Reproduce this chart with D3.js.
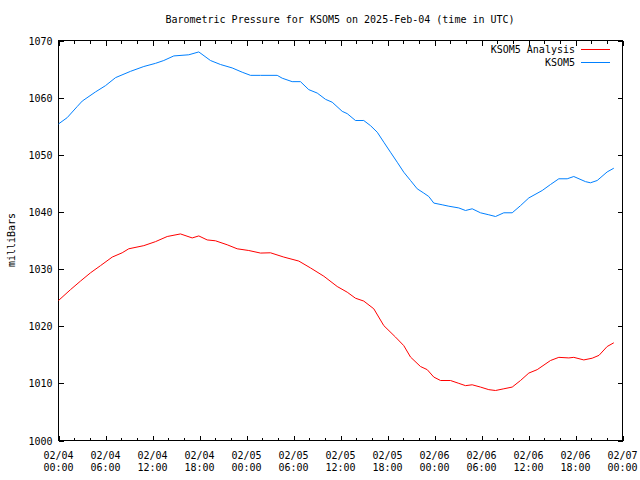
<!DOCTYPE html>
<html>
<head>
<meta charset="utf-8">
<script src="https://cdn.jsdelivr.net/npm/d3@7"></script>
<style>
  html, body { margin: 0; padding: 0; background: #fff; }
  svg { display: block; }
  text { font-family: "DejaVu Sans Mono", "Liberation Mono", monospace; font-size: 10px; fill: #000; }
</style>
</head>
<body>
<svg id="chart" width="640" height="480"></svg>
<script>
// ---- Data (hours since 2025-02-04 00:00 UTC, pressure in mb) ----
const stationHours = [0, 1.11, 2.39, 3.03, 4.72, 6.0, 7.28, 9.19, 10.89, 12.38, 13.44, 14.72, 16.63, 17.91,
  19.4, 20.68, 22.17, 23.45, 24.51, 25.79, 27.92, 28.56, 29.83, 30.89, 31.95, 33.03, 34.09, 34.94,
  36.22, 36.86, 37.91, 38.97, 39.83, 40.69, 41.53, 42.38, 43.24, 44.08, 44.94, 45.79, 46.63, 47.27,
  47.91, 48.98, 49.83, 51.1, 51.96, 52.81, 53.87, 54.93, 55.79, 56.85, 57.92, 58.98, 60.04, 61.75,
  62.81, 63.87, 64.94, 65.78, 67.28, 67.91, 68.77, 70.04, 70.89];
const stationValues = [1055.4, 1056.5, 1058.45, 1059.4, 1061.0, 1062.1, 1063.5, 1064.6, 1065.45, 1066.0, 1066.5, 1067.3, 1067.5, 1068.0,
  1066.5, 1065.8, 1065.2, 1064.45, 1063.9, 1063.9, 1063.9, 1063.4, 1062.8, 1062.8, 1061.4, 1060.8, 1059.7, 1059.2,
  1057.6, 1057.2, 1056.0, 1056.0, 1055.1, 1053.95, 1052.2, 1050.45, 1048.7, 1046.95, 1045.5, 1044.05, 1043.3, 1042.7,
  1041.55, 1041.25, 1041.0, 1040.7, 1040.25, 1040.55, 1039.85, 1039.5, 1039.2, 1039.85, 1039.85, 1041.1, 1042.45, 1043.75,
  1044.8, 1045.8, 1045.8, 1046.2, 1045.3, 1045.1, 1045.5, 1047.0, 1047.65];

const analysisHours = [0, 1.53, 2.81, 4.09, 5.36, 6.86, 8.13, 8.97, 10.89, 12.38, 13.88, 15.57, 17.07, 17.91,
  18.98, 20.04, 21.54, 22.81, 24.29, 25.79, 27.06, 28.76, 30.68, 32.17, 33.87, 35.58, 36.86, 37.91,
  38.97, 40.25, 41.53, 43.02, 44.08, 44.94, 46.21, 47.07, 47.91, 48.77, 50.04, 51.1, 51.96, 52.81,
  53.87, 54.93, 55.79, 56.85, 57.92, 58.98, 60.04, 61.11, 62.81, 63.87, 65.15, 65.78, 67.06, 68.13,
  69.0, 70.04, 70.89];
const analysisValues = [1024.5, 1026.4, 1027.9, 1029.35, 1030.6, 1032.1, 1032.85, 1033.55, 1034.1, 1034.8, 1035.7, 1036.15, 1035.45, 1035.8,
  1035.1, 1034.95, 1034.25, 1033.55, 1033.25, 1032.8, 1032.85, 1032.1, 1031.4, 1030.2, 1028.75, 1026.95, 1025.95, 1024.9,
  1024.4, 1023.05, 1020.1, 1018.1, 1016.6, 1014.6, 1012.95, 1012.4, 1011.1, 1010.5, 1010.5, 1010.0, 1009.6, 1009.75,
  1009.35, 1008.9, 1008.75, 1009.05, 1009.35, 1010.5, 1011.8, 1012.4, 1014.0, 1014.55, 1014.45, 1014.55, 1014.1, 1014.4,
  1014.9, 1016.45, 1017.1];

const xTickHours = [0, 6, 12, 18, 24, 30, 36, 42, 48, 54, 60, 66, 72];
const xTickDates = ["02/04", "02/04", "02/04", "02/04", "02/05", "02/05", "02/05", "02/05", "02/06", "02/06", "02/06", "02/06", "02/07"];
const xTickTimes = ["00:00", "06:00", "12:00", "18:00", "00:00", "06:00", "12:00", "18:00", "00:00", "06:00", "12:00", "18:00", "00:00"];
const yTicks = [1000, 1010, 1020, 1030, 1040, 1050, 1060, 1070];
const seriesNames = ["KSOM5 Analysis", "KSOM5"];
const seriesColors = ["#ff0000", "#0080ff"];
const titleText = "Barometric Pressure for KSOM5 on 2025-Feb-04 (time in UTC)";
const yLabelText = "milliBars";

// ---- Layout ----
const L = 58, R = 622, T = 40, B = 440;
const svg = d3.select("#chart");
const g = svg.append("g").attr("transform", "translate(0.5,0.5)");

const x = d3.scaleLinear().domain([0, 72]).range([L, R]);
const y = d3.scaleLinear().domain([1000, 1070]).range([B, T]);

const minorHours = d3.range(0, 73, 2).filter(h => h % 6 !== 0);

function styleAxis(sel) {
  sel.select(".domain").remove();
  sel.selectAll("line").attr("stroke", "#000").attr("shape-rendering", "crispEdges");
}

// bottom & top major/minor ticks (inward)
g.append("g").attr("transform", `translate(0,${B})`)
  .call(d3.axisBottom(x).tickValues(xTickHours).tickSize(-5).tickFormat("")).call(styleAxis);
g.append("g").attr("transform", `translate(0,${B})`)
  .call(d3.axisBottom(x).tickValues(minorHours).tickSize(-3).tickFormat("")).call(styleAxis);
g.append("g").attr("transform", `translate(0,${T})`)
  .call(d3.axisTop(x).tickValues(xTickHours).tickSize(-5).tickFormat("")).call(styleAxis);
g.append("g").attr("transform", `translate(0,${T})`)
  .call(d3.axisTop(x).tickValues(minorHours).tickSize(-3).tickFormat("")).call(styleAxis);

// left & right ticks
const yl = g.append("g").attr("transform", `translate(${L},0)`)
  .call(d3.axisLeft(y).tickValues(yTicks).tickSize(-5).tickPadding(6).tickFormat(d3.format("d")));
styleAxis(yl);
yl.selectAll("text").attr("font-family", null).attr("font-size", null).attr("dy", "0.35em");
g.append("g").attr("transform", `translate(${R},0)`)
  .call(d3.axisRight(y).tickValues(yTicks).tickSize(-5).tickFormat("")).call(styleAxis);

// x tick labels (two lines)
const xl = g.append("g");
xTickHours.forEach((h, i) => {
  const t = xl.append("text").attr("x", x(h)).attr("y", 458).attr("text-anchor", "middle");
  t.append("tspan").attr("x", x(h)).attr("y", 458).text(xTickDates[i]);
  t.append("tspan").attr("x", x(h)).attr("y", 470).text(xTickTimes[i]);
});

// frame
g.append("rect").attr("x", L).attr("y", T).attr("width", R - L).attr("height", B - T)
  .attr("fill", "none").attr("stroke", "#000").attr("shape-rendering", "crispEdges");

// lines
const line = d3.line().x(d => x(d[0])).y(d => y(d[1]));
const analysis = analysisHours.map((h, i) => [h, analysisValues[i]]);
const station = stationHours.map((h, i) => [h, stationValues[i]]);
g.append("path").datum(analysis).attr("d", line).attr("fill", "none")
  .attr("stroke", seriesColors[0]).attr("stroke-width", 1);
g.append("path").datum(station).attr("d", line).attr("fill", "none")
  .attr("stroke", seriesColors[1]).attr("stroke-width", 1);

// title
svg.append("text").attr("x", 340).attr("y", 23).attr("text-anchor", "middle").text(titleText);

// y label
svg.append("text").attr("transform", "translate(15,240) rotate(-90)")
  .attr("text-anchor", "middle").text(yLabelText);

// legend
seriesNames.forEach((name, i) => {
  const ly = 49 + i * 13;
  svg.append("text").attr("x", 575).attr("y", ly + 4).attr("text-anchor", "end").text(name);
  svg.append("line").attr("x1", 581).attr("x2", 610).attr("y1", ly + 0.5).attr("y2", ly + 0.5)
    .attr("stroke", seriesColors[i]).attr("stroke-width", 1).attr("shape-rendering", "crispEdges");
});
</script>
</body>
</html>
